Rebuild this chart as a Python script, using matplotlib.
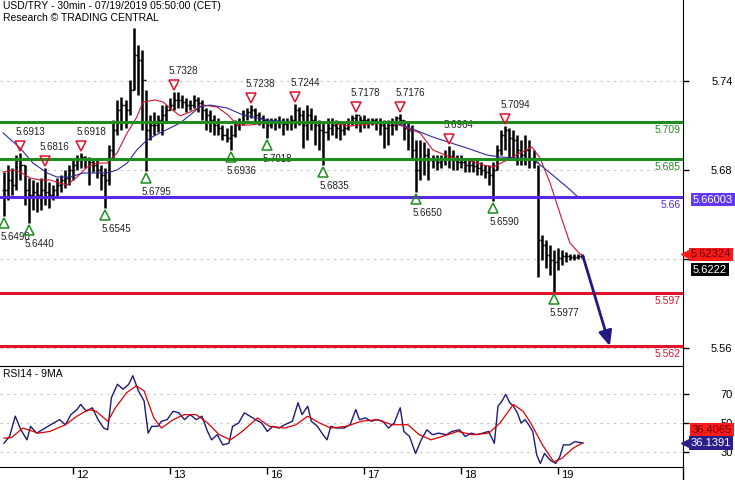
import numpy as np
import matplotlib
matplotlib.use('Agg')
import matplotlib.pyplot as plt
from matplotlib import transforms

plt.rcParams['font.family'] = ['Liberation Sans', 'DejaVu Sans']

# ---- data (time in hours, 24 = start of the 12th) ---------------------------
bar_t = np.arange(7, 151)
bar_high = [5.6787, 5.6834, 5.6813, 5.6900, 5.6913, 5.6834, 5.6746, 5.6733, 5.6720, 5.6746,
            5.6816, 5.6720, 5.6700, 5.6746, 5.6766, 5.6800, 5.6834, 5.6867, 5.6900, 5.6918,
            5.6894, 5.6888, 5.6881, 5.6867, 5.6834, 5.6813, 5.6969, 5.7137, 5.7272, 5.7292,
            5.7272, 5.7407, 5.7757, 5.7642, 5.7609, 5.7339, 5.7171, 5.7191, 5.7171, 5.7238,
            5.7238, 5.7285, 5.7328, 5.7326, 5.7305, 5.7285, 5.7272, 5.7305, 5.7292, 5.7272,
            5.7218, 5.7204, 5.7171, 5.7150, 5.7103, 5.7083, 5.7103, 5.7137, 5.7150, 5.7204,
            5.7218, 5.7238, 5.7218, 5.7191, 5.7171, 5.7150, 5.7150, 5.7150, 5.7164, 5.7150,
            5.7150, 5.7171, 5.7244, 5.7224, 5.7204, 5.7238, 5.7218, 5.7171, 5.7137, 5.7123,
            5.7150, 5.7150, 5.7137, 5.7123, 5.7123, 5.7150, 5.7171, 5.7178, 5.7164, 5.7171,
            5.7150, 5.7150, 5.7150, 5.7150, 5.7137, 5.7137, 5.7150, 5.7164, 5.7176, 5.7137,
            5.7123, 5.7103, 5.7002, 5.7002, 5.6989, 5.6948, 5.6900, 5.6900, 5.6900, 5.6935,
            5.6964, 5.6935, 5.6900, 5.6900, 5.6881, 5.6867, 5.6867, 5.6867, 5.6854, 5.6834,
            5.6834, 5.6854, 5.6969, 5.7070, 5.7094, 5.7083, 5.7070, 5.7036, 5.7002, 5.7036,
            5.7002, 5.6935, 5.6834, 5.6362, 5.6328, 5.6294, 5.6261, 5.6274, 5.6261, 5.6247,
            5.6234, 5.6234, 5.6234, 5.6227]
bar_low = [5.6490, 5.6600, 5.6632, 5.6665, 5.6733, 5.6564, 5.6440, 5.6530, 5.6517, 5.6530,
           5.6564, 5.6544, 5.6600, 5.6611, 5.6652, 5.6679, 5.6700, 5.6733, 5.6800, 5.6813,
           5.6813, 5.6700, 5.6787, 5.6746, 5.6665, 5.6545, 5.6700, 5.6867, 5.7036, 5.7070,
           5.7083, 5.7171, 5.7339, 5.7306, 5.7070, 5.6795, 5.7002, 5.7036, 5.7056, 5.7036,
           5.7123, 5.7204, 5.7204, 5.7218, 5.7218, 5.7191, 5.7204, 5.7218, 5.7191, 5.7137,
           5.7070, 5.7056, 5.7036, 5.7036, 5.7002, 5.6989, 5.6936, 5.7022, 5.7070, 5.7103,
           5.7137, 5.7150, 5.7123, 5.7103, 5.7083, 5.7018, 5.7083, 5.7070, 5.7083, 5.7036,
           5.7070, 5.7070, 5.7083, 5.7103, 5.6948, 5.7002, 5.7070, 5.6969, 5.6935, 5.6835,
           5.7002, 5.7036, 5.7016, 5.7002, 5.7036, 5.7070, 5.7103, 5.7083, 5.7056, 5.7083,
           5.7083, 5.7103, 5.7070, 5.7036, 5.6948, 5.6969, 5.7036, 5.7070, 5.7103, 5.7002,
           5.6935, 5.6867, 5.6650, 5.6733, 5.6766, 5.6733, 5.6813, 5.6800, 5.6813, 5.6834,
           5.6813, 5.6800, 5.6800, 5.6813, 5.6787, 5.6787, 5.6787, 5.6766, 5.6766, 5.6746,
           5.6700, 5.6590, 5.6800, 5.6900, 5.6935, 5.6867, 5.6867, 5.6834, 5.6834, 5.6834,
           5.6813, 5.6813, 5.6079, 5.6193, 5.6139, 5.6092, 5.5977, 5.6126, 5.6160, 5.6180,
           5.6193, 5.6193, 5.6200, 5.6207]
bar_close = [5.6665, 5.6733, 5.6700, 5.6867, 5.6834, 5.6665, 5.6632, 5.6652, 5.6632, 5.6665,
             5.6652, 5.6632, 5.6665, 5.6700, 5.6733, 5.6746, 5.6800, 5.6834, 5.6867, 5.6888,
             5.6867, 5.6854, 5.6834, 5.6800, 5.6766, 5.6733, 5.6935, 5.7070, 5.7204, 5.7238,
             5.7204, 5.7339, 5.7575, 5.7541, 5.7407, 5.7070, 5.7103, 5.7103, 5.7137, 5.7171,
             5.7204, 5.7238, 5.7272, 5.7272, 5.7258, 5.7238, 5.7238, 5.7272, 5.7252, 5.7204,
             5.7171, 5.7137, 5.7103, 5.7083, 5.7036, 5.7016, 5.7036, 5.7103, 5.7123, 5.7171,
             5.7191, 5.7204, 5.7171, 5.7150, 5.7137, 5.7103, 5.7123, 5.7123, 5.7123, 5.7110,
             5.7123, 5.7137, 5.7204, 5.7171, 5.7103, 5.7171, 5.7137, 5.7103, 5.7070, 5.7056,
             5.7083, 5.7103, 5.7083, 5.7070, 5.7083, 5.7123, 5.7150, 5.7171, 5.7137, 5.7137,
             5.7123, 5.7137, 5.7123, 5.7103, 5.7083, 5.7103, 5.7103, 5.7150, 5.7137, 5.7083,
             5.7070, 5.6935, 5.6800, 5.6867, 5.6900, 5.6867, 5.6867, 5.6854, 5.6867, 5.6881,
             5.6894, 5.6867, 5.6854, 5.6854, 5.6834, 5.6834, 5.6827, 5.6813, 5.6800, 5.6787,
             5.6766, 5.6800, 5.6935, 5.7036, 5.7070, 5.7016, 5.7002, 5.6935, 5.6900, 5.6935,
             5.6881, 5.6854, 5.6328, 5.6294, 5.6227, 5.6193, 5.6180, 5.6207, 5.6220, 5.6220,
             5.6213, 5.6213, 5.6220, 5.6222]

ma_red_t = [6.7, 9.2, 10.9, 13.4, 15.8, 18.3, 20.8, 22.5, 25.0, 27.5, 29.9, 32.4, 34.9, 37.4,
            39.8, 41.3, 44.3, 46.3, 48.0, 50.5, 53.0, 56.2, 59.6, 62.4, 64.6, 67.8, 71.5, 77.7,
            87.6, 92.6, 97.5, 102.5, 104.9, 109.9, 113.1, 117.3, 121.5, 125.5, 128.0, 131.4,
            134.6, 137.6, 139.6, 142.1, 144.5, 147.0, 149.5, 150.2]
ma_red = [5.6787, 5.6800, 5.6787, 5.6746, 5.6733, 5.6733, 5.6712, 5.6699, 5.6753, 5.6820,
          5.6847, 5.6847, 5.6915, 5.7050, 5.7157, 5.7258, 5.7272, 5.7258, 5.7218, 5.7165,
          5.7191, 5.7238, 5.7225, 5.7171, 5.7103, 5.7103, 5.7117, 5.7124, 5.7117, 5.7097,
          5.7110, 5.7117, 5.7103, 5.7050, 5.6935, 5.6888, 5.6867, 5.6834, 5.6820, 5.6867,
          5.6915, 5.6955, 5.6881, 5.6712, 5.6510, 5.6308, 5.6234, 5.6227]
ma_blue_t = [6.7, 10.9, 14.1, 17.6, 20.0, 23.3, 26.5, 29.9, 32.4, 34.9, 37.4, 39.8, 42.3, 45.5,
             48.0, 50.5, 53.0, 55.4, 57.9, 62.1, 66.1, 72.0, 77.7, 87.6, 97.5, 104.9, 113.1,
             121.5, 126.5, 129.7, 137.9, 142.1, 146.3, 149.0]
ma_blue = [5.7050, 5.6948, 5.6847, 5.6780, 5.6753, 5.6753, 5.6780, 5.6780, 5.6780, 5.6800,
           5.6847, 5.6935, 5.7002, 5.7050, 5.7083, 5.7117, 5.7171, 5.7225, 5.7238, 5.7218,
           5.7171, 5.7137, 5.7124, 5.7124, 5.7124, 5.7110, 5.7022, 5.6948, 5.6901, 5.6888,
           5.6874, 5.6780, 5.6685, 5.6618]

hi_t = [11, 17, 26, 49, 68, 79, 94, 105, 117, 131]
hi_p = [5.6913, 5.6816, 5.6918, 5.7328, 5.7238, 5.7244, 5.7178, 5.7176, 5.6964, 5.7094]
lo_t = [7, 13, 32, 42, 63, 72, 86, 109, 128, 143]
lo_p = [5.6490, 5.6440, 5.6545, 5.6795, 5.6936, 5.7018, 5.6835, 5.6650, 5.6590, 5.5977]

level_p = [5.7124, 5.6874, 5.6618, 5.5970, 5.5613]
level_lab = ['5.709', '5.685', '5.66', '5.597', '5.562']
level_col = ['#1e8c1e', '#1e8c1e', '#5a28e0', '#e0142d', '#e0142d']

arrow_t = [150.2, 156.9]
arrow_p = [5.6222, 5.5613]

rsi_t = [6.9, 8.3, 9.7, 11.1, 12.6, 13.5, 15.0, 16.4, 17.8, 19.2, 20.7, 22.1, 23.5, 25.0, 25.9,
         27.3, 28.8, 30.2, 31.6, 32.6, 33.5, 35.0, 36.4, 37.8, 38.8, 40.2, 41.6, 42.6, 43.5,
         45.0, 45.9, 47.3, 48.8, 50.2, 51.6, 53.0, 54.5, 55.9, 57.3, 58.3, 59.7, 61.1, 62.6,
         63.5, 65.0, 66.4, 67.8, 69.2, 70.7, 72.1, 73.5, 75.0, 76.4, 78.3, 79.7, 80.7, 82.1,
         83.0, 84.5, 85.9, 86.9, 87.8, 89.2, 91.1, 92.6, 94.0, 94.9, 96.4, 97.8, 99.2, 100.7,
         102.1, 103.5, 105.0, 105.9, 107.3, 108.8, 110.2, 111.6, 113.0, 114.5, 116.4, 117.8,
         119.7, 121.1, 122.6, 124.0, 125.4, 126.9, 128.3, 129.2, 130.2, 131.1, 132.1, 133.0,
         134.0, 134.9, 135.9, 136.8, 137.8, 138.8, 139.7, 140.7, 142.1, 143.5, 144.5, 145.4,
         146.9, 148.3, 150.2]
rsi = [36, 40.7, 54.7, 45.3, 38.4, 47.7, 43, 45.3, 47.7, 50, 52.3, 48.8, 55.8, 59.3, 62.8,
       58.1, 60.5, 52.3, 46.5, 45.3, 67.4, 76.7, 73.3, 76.7, 82.6, 72.1, 65.1, 43, 47.7,
       47.7, 51.2, 52.3, 58.1, 57, 52.3, 55.8, 52.3, 54.7, 44.2, 38.4, 41.9, 34.9, 36,
       47.7, 50, 57, 54.7, 52.3, 50, 44.2, 47.7, 46.5, 48.8, 51.2, 64, 55.8, 61.6,
       51.2, 47.7, 41.9, 38.4, 47.7, 46.5, 46.5, 48.8, 59.3, 52.3, 53.5, 51.2, 52.3, 51.2,
       46.5, 50, 60.5, 44.2, 40.7, 29, 38.4, 45.3, 41.9, 43, 41.9, 44.2,
       45.3, 40.7, 43, 41.9, 43, 44.2, 36, 61.6, 65.1, 69.8, 64, 61.6,
       57, 50, 52.3, 48.8, 44.2, 27.9, 22.1, 29, 24.4, 22.1, 26.7, 34.9,
       34.9, 37.2, 36.1]
rsi_ma_t = [6.9, 8.8, 11.6, 15.4, 18.3, 22.1, 25.0, 27.8, 29.7, 32.6, 34.5, 37.3, 39.7, 41.6,
            44.0, 45.9, 48.8, 51.6, 54.5, 57.3, 60.2, 63.0, 65.9, 69.7, 72.6, 76.4, 79.2, 82.1,
            85.0, 87.8, 91.6, 95.4, 99.2, 103.0, 106.9, 109.7, 112.6, 115.4, 119.2, 123.0,
            126.9, 129.7, 133.0, 135.4, 137.3, 140.2, 143.0, 145.0, 147.8, 150.2]
rsi_ma = [39.5, 40, 46.5, 43, 44.2, 48.8, 54.7, 59.3, 58.1, 51.2, 60.5, 71, 75.6, 72.1,
          53.5, 46.5, 52.3, 55.8, 55.8, 50, 41.9, 38.4, 44.2, 53.5, 47.7, 46.5, 48.8, 54.7,
          50, 46.5, 47.7, 51.2, 52.3, 48.8, 48.8, 41.9, 38.4, 40.7, 44.2, 41.9,
          43, 50, 62.8, 58.1, 50, 34.9, 23.2, 25.6, 32.6, 36.4]

day_t = [24, 48, 72, 96, 120, 144]
day_lab = ['12', '13', '16', '17', '18', '19']

# ---- figure -----------------------------------------------------------------
W, H = 735, 480
fig = plt.figure(figsize=(W / 100, H / 100), dpi=100)
ax = fig.add_axes([0, 114 / H, 683 / W, 366 / H])
rx = fig.add_axes([0, 13 / H, 683 / W, 101 / H], sharex=ax)


def px(dx, dy):
    # pixel offset (image y grows downwards -> pass negative dy for "below")
    return transforms.ScaledTranslation(dx / 100, dy / 100, fig.dpi_scale_trans)


ax.set_xlim(5.93, 175.0)
ax.set_ylim(5.5479, 5.7946)
rx.set_ylim(19.65, 89.3)

for a in (ax, rx):
    a.grid(axis='y', color='#c4c4c4', ls=(0, (2, 4)), lw=0.8)
    a.set_axisbelow(True)
    a.spines['left'].set_visible(False)
    a.yaxis.tick_right()
    a.tick_params(axis='y', direction='out', length=4, width=1, labelsize=8, pad=31.7,
                  colors='black')
ax.spines['top'].set_visible(False)
ax.tick_params(axis='x', bottom=False, labelbottom=False)

# the 5.62 label sits behind the price boxes in the original
ax.set_yticks([5.56, 5.62, 5.68, 5.74])
ax.set_yticklabels(['5.56', '', '5.68', '5.74'])
rx.set_yticks([30, 50, 70])
rx.set_yticklabels(['30', '50', '70'])
for a in (ax, rx):
    for lab in a.get_yticklabels():
        lab.set_horizontalalignment('right')

# price bars
opens = np.r_[bar_close[0], bar_close[:-1]]
ax.vlines(bar_t, bar_low, bar_high, color='black', lw=1.8, zorder=2)
ax.hlines(bar_close, bar_t, bar_t + 0.5, color='black', lw=1.0, zorder=2)
ax.hlines(opens, bar_t - 0.5, bar_t, color='black', lw=1.0, zorder=2)

# moving averages
ax.plot(ma_red_t, ma_red, color='#d4142a', lw=0.8, zorder=3)
ax.plot(ma_blue_t, ma_blue, color='#2b2b9e', lw=0.8, zorder=3)

# levels
bt = transforms.blended_transform_factory(ax.transAxes, ax.transData)
for p, lab, c in zip(level_p, level_lab, level_col):
    ax.axhline(p, color=c, lw=2.2, zorder=4)
    ax.text(0.997, p, lab, transform=bt + px(0, -8), ha='right', va='center',
            color=c, fontsize=7.5, zorder=5)

# swing highs / lows
for t, p in zip(hi_t, hi_p):
    ax.plot(t, p, marker='v', ms=7, mfc='none', mec='#e0102a', mew=1.1,
            transform=ax.transData + px(0, 7), zorder=5)
    ax.text(t, p, f'{p:.4f}', transform=ax.transData + px(-5, 21), ha='left',
            va='center', fontsize=7, color='#202020')
for t, p in zip(lo_t, lo_p):
    ax.plot(t, p, marker='^', ms=7, mfc='none', mec='#1e8c1e', mew=1.1,
            transform=ax.transData + px(0, -7), zorder=5)
    ax.text(t, p, f'{p:.4f}', transform=ax.transData + px(-4, -21), ha='left',
            va='center', fontsize=7, color='#202020')

# projection arrow
ax.annotate('', xy=(arrow_t[1], arrow_p[1]), xytext=(arrow_t[0], arrow_p[0]),
            arrowprops=dict(arrowstyle='-|>,head_length=0.9,head_width=0.4',
                            color='#221a82', lw=2.0, shrinkA=0, shrinkB=0), zorder=6)

# right hand price boxes
ax.text(693 / 683, 5.66003, '5.66003', transform=bt, ha='left', va='center',
        color='white', fontsize=8, clip_on=False, zorder=7,
        bbox=dict(boxstyle='square,pad=0.15', fc='#6236f5', ec='none'))
ax.plot(687 / 683, 5.62324, marker='<', ms=8, color='#ff1a1a', transform=bt,
        clip_on=False, zorder=7)
ax.text(691 / 683, 5.62324, '5.62324', transform=bt, ha='left', va='center',
        color='#6a0000', fontsize=8, clip_on=False, zorder=7,
        bbox=dict(boxstyle='square,pad=0.15', fc='#ff1a1a', ec='none'))
ax.text(693 / 683, bar_close[-1], f'{bar_close[-1]:.4f}', transform=bt + px(0, -14),
        ha='left', va='center', color='white', fontsize=8, clip_on=False, zorder=7,
        bbox=dict(boxstyle='square,pad=0.15', fc='black', ec='none'))

# RSI panel
rx.plot(rsi_t, rsi, color='#1c1c78', lw=1.0, zorder=3)
rx.plot(rsi_ma_t, rsi_ma, color='#e00000', lw=0.9, zorder=3)
rt = transforms.blended_transform_factory(rx.transAxes, rx.transData)
rx.text(692 / 683, rsi_ma[-1], '36.4065', transform=rt + px(0, 13), ha='left',
        va='center', color='#6a0000', fontsize=8, clip_on=False, zorder=7,
        bbox=dict(boxstyle='square,pad=0.15', fc='#ff1a1a', ec='none'))
rx.plot(687 / 683, rsi[-1], marker='<', ms=8, color='#2c1f8c', transform=rt,
        clip_on=False, zorder=7)
rx.text(691 / 683, rsi[-1], '36.1391', transform=rt, ha='left', va='center',
        color='white', fontsize=8, clip_on=False, zorder=7,
        bbox=dict(boxstyle='square,pad=0.15', fc='#2c1f8c', ec='none'))

rx.set_xticks(day_t)
rx.set_xticklabels([])
rx.tick_params(axis='x', direction='out', length=5, width=1)
xt = transforms.blended_transform_factory(rx.transData, rx.transAxes)
for t, lab in zip(day_t, day_lab):
    rx.text(t, 0, lab, transform=xt + px(3, -8), ha='left', va='center', fontsize=8)

fig.text(3 / W, 1 - 6 / H, 'USD/TRY - 30min - 07/19/2019 05:50:00 (CET)', fontsize=7.5,
         ha='left', va='center')
fig.text(3 / W, 1 - 18 / H, 'Research \u00a9 TRADING CENTRAL', fontsize=7.5,
         ha='left', va='center')
fig.text(3 / W, 1 - 374 / H, 'RSI14 - 9MA', fontsize=7.5, ha='left', va='center')
fig.add_artist(plt.Line2D([683 / W, 683 / W], [0, 13 / H], color='black', lw=1))

fig.savefig('out.png', dpi=100)
